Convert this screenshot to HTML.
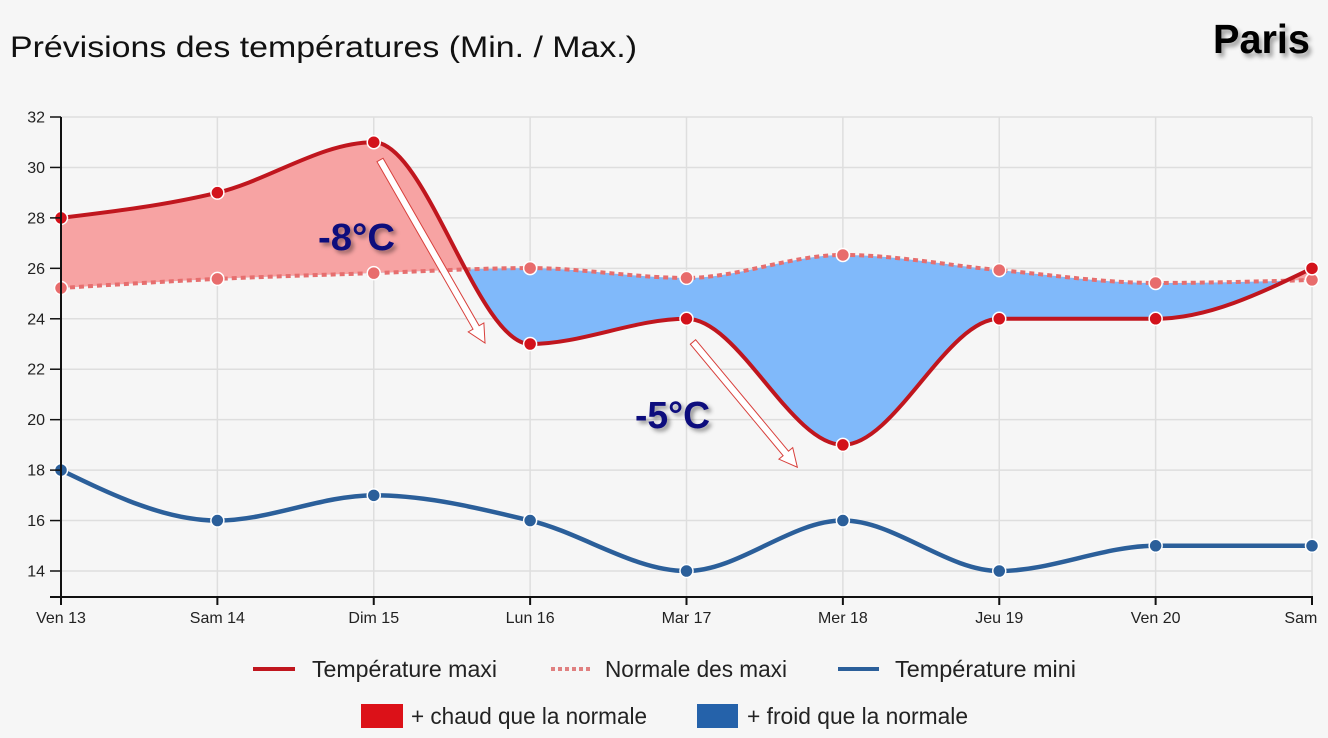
<!DOCTYPE html>
<html>
<head>
<meta charset="utf-8">
<style>
html,body{margin:0;padding:0;background:#f6f6f6;}
body{width:1328px;height:738px;overflow:hidden;}
svg{display:block;}
text{font-family:"Liberation Sans",Arial,sans-serif;}
</style>
</head>
<body>
<svg id="s" width="1328" height="738" viewBox="0 0 1328 738" xmlns="http://www.w3.org/2000/svg">
<defs>
  <filter id="sh" x="-20%" y="-20%" width="150%" height="160%">
    <feDropShadow dx="3" dy="4" stdDeviation="2" flood-color="#000" flood-opacity="0.35"/>
  </filter>
  <filter id="sh2" x="-20%" y="-20%" width="150%" height="160%">
    <feDropShadow dx="3" dy="3" stdDeviation="2" flood-color="#000" flood-opacity="0.4"/>
  </filter>
  <clipPath id="clipAbove"><path id="cpA" d=""/></clipPath>
  <clipPath id="clipBelow"><path id="cpB" d=""/></clipPath>
  <clipPath id="plotClip"><rect x="0" y="0" width="1318" height="738"/></clipPath>
</defs>
<rect width="1328" height="738" fill="#f6f6f6"/>

<text x="10" y="57" font-size="30" fill="#111" textLength="627" lengthAdjust="spacingAndGlyphs">Prévisions des températures (Min. / Max.)</text>
<text x="1213" y="53" font-size="41" font-weight="bold" fill="#000" textLength="97" lengthAdjust="spacingAndGlyphs" filter="url(#sh)">Paris</text>

<g id="grid" stroke="#dedede" stroke-width="1.5"></g>
<path id="fillRed" fill="rgb(247,163,163)" clip-path="url(#clipAbove)"/>
<path id="fillBlue" fill="rgb(128,185,250)" clip-path="url(#clipBelow)"/>
<path id="lineNorm" fill="none" stroke="rgb(230,110,110)" stroke-width="4" stroke-dasharray="5 4"/>
<path id="lineMax" fill="none" stroke="#c0161e" stroke-width="4"/>
<path id="lineMin" fill="none" stroke="#2b5f9a" stroke-width="4.5"/>
<g id="dots"></g>

<!-- arrows -->
<g transform="translate(380,160) rotate(60.15)">
  <polygon points="0,-3.5 193,-3.5 193,-9 211,0 193,9 193,3.5 0,3.5" fill="#fff" stroke="#d8403c" stroke-width="1"/>
</g>
<g transform="translate(693,342) rotate(50.2)">
  <polygon points="0,-3.5 145,-3.5 145,-9 163,0 145,9 145,3.5 0,3.5" fill="#fff" stroke="#d8403c" stroke-width="1"/>
</g>

<text x="318" y="250" font-size="38" font-weight="bold" fill="#0a0a7d" textLength="77" lengthAdjust="spacingAndGlyphs" filter="url(#sh2)">-8°C</text>
<text x="635" y="428" font-size="38" font-weight="bold" fill="#0a0a7d" textLength="75" lengthAdjust="spacingAndGlyphs" filter="url(#sh2)">-5°C</text>

<g id="axes"></g>

<!-- legend -->
<line x1="253" y1="669" x2="295" y2="669" stroke="#c0161e" stroke-width="4"/>
<text x="312" y="677" font-size="23" fill="#222" textLength="185" lengthAdjust="spacingAndGlyphs">Température maxi</text>
<line x1="551" y1="669" x2="590" y2="669" stroke="#e08080" stroke-width="4" stroke-dasharray="4 3"/>
<text x="605" y="677" font-size="23" fill="#222" textLength="182" lengthAdjust="spacingAndGlyphs">Normale des maxi</text>
<line x1="838" y1="669" x2="879" y2="669" stroke="#2b5f9a" stroke-width="4"/>
<text x="895" y="677" font-size="23" fill="#222" textLength="181" lengthAdjust="spacingAndGlyphs">Température mini</text>

<rect x="361" y="704" width="42" height="24" fill="#dc1118"/>
<text x="411" y="724" font-size="23" fill="#222" textLength="236" lengthAdjust="spacingAndGlyphs">+ chaud que la normale</text>
<rect x="697" y="704" width="41" height="24" fill="#2562aa"/>
<text x="747" y="724" font-size="23" fill="#222" textLength="221" lengthAdjust="spacingAndGlyphs">+ froid que la normale</text>
</svg>

<script>
(function(){
  var NS="http://www.w3.org/2000/svg";
  var X0=61, X1=1312, Y32=117, PER=(571-117)/18;
  var xs=[];for(var i=0;i<9;i++)xs.push(X0+i*(X1-X0)/8);
  function Y(v){return Y32+(32-v)*PER;}
  var maxT=[28,29,31,23,24,19,24,24,26];
  var norm=[25.22,25.58,25.81,26.01,25.62,26.53,25.93,25.42,25.54];
  var minT=[18,16,17,16,14,16,14,15,15];
  var days=["Ven 13","Sam 14","Dim 15","Lun 16","Mar 17","Mer 18","Jeu 19","Ven 20","Sam 21"];
  function tang(x,y){
    var n=x.length,t=new Array(n);
    for(var i=1;i<n-1;i++){
      var h0=x[i]-x[i-1],h1=x[i+1]-x[i],s0=(y[i]-y[i-1])/h0,s1=(y[i+1]-y[i])/h1,p=(s0*h1+s1*h0)/(h0+h1);
      var sg=function(v){return v<0?-1:1;};
      t[i]=(sg(s0)+sg(s1))*Math.min(Math.abs(s0),Math.abs(s1),0.5*Math.abs(p))||0;
    }
    t[0]=(3*(y[1]-y[0])/(x[1]-x[0])-t[1])/2;
    t[n-1]=(3*(y[n-1]-y[n-2])/(x[n-1]-x[n-2])-t[n-2])/2;
    return t;
  }
  function fwd(x,y,move){
    var t=tang(x,y),d=(move?"M":"L")+x[0]+","+y[0];
    for(var i=0;i<x.length-1;i++){
      var dx=(x[i+1]-x[i])/3;
      d+="C"+(x[i]+dx)+","+(y[i]+dx*t[i])+","+(x[i+1]-dx)+","+(y[i+1]-dx*t[i+1])+","+x[i+1]+","+y[i+1];
    }
    return d;
  }
  function rev(x,y){
    var t=tang(x,y),n=x.length,d="L"+x[n-1]+","+y[n-1];
    for(var i=n-1;i>0;i--){
      var dx=(x[i]-x[i-1])/3;
      d+="C"+(x[i]-dx)+","+(y[i]-dx*t[i])+","+(x[i-1]+dx)+","+(y[i-1]+dx*t[i-1])+","+x[i-1]+","+y[i-1];
    }
    return d;
  }
  var yMax=maxT.map(Y),yNorm=norm.map(Y),yMin=minT.map(Y);
  var area=fwd(xs,yMax,true)+rev(xs,yNorm)+"Z";
  document.getElementById("fillRed").setAttribute("d",area);
  document.getElementById("fillBlue").setAttribute("d",area);
  document.getElementById("cpA").setAttribute("d",fwd(xs,yNorm,true)+"L1330,0L0,0Z");
  document.getElementById("cpB").setAttribute("d",fwd(xs,yNorm,true)+"L1330,738L0,738Z");
  document.getElementById("lineMax").setAttribute("d",fwd(xs,yMax,true));
  document.getElementById("lineNorm").setAttribute("d",fwd(xs,yNorm,true));
  document.getElementById("lineMin").setAttribute("d",fwd(xs,yMin,true));

  function el(tag,attrs,parent,txt){
    var e=document.createElementNS(NS,tag);
    for(var k in attrs)e.setAttribute(k,attrs[k]);
    if(txt!==undefined)e.textContent=txt;
    parent.appendChild(e);return e;
  }
  var g=document.getElementById("grid");
  for(var v=14;v<=32;v+=2){el("line",{x1:X0,y1:Y(v),x2:X1,y2:Y(v)},g);}
  for(var i=0;i<9;i++){el("line",{x1:xs[i],y1:Y32,x2:xs[i],y2:597},g);}

  var dg=document.getElementById("dots");
  for(var i=0;i<9;i++){
    el("circle",{cx:xs[i],cy:yNorm[i],r:6.5,fill:"#e86c6c",stroke:"#fff","stroke-width":1.5},dg);
  }
  for(var i=0;i<9;i++){
    el("circle",{cx:xs[i],cy:yMax[i],r:6.5,fill:"#d3121b",stroke:"#fff","stroke-width":1.5},dg);
    el("circle",{cx:xs[i],cy:yMin[i],r:6.5,fill:"#2b5f9a",stroke:"#fff","stroke-width":1.5},dg);
  }

  var ax=document.getElementById("axes");
  el("line",{x1:X0,y1:Y32,x2:X0,y2:598,stroke:"#111","stroke-width":2},ax);
  el("line",{x1:50,y1:597,x2:X1+1,y2:597,stroke:"#111","stroke-width":2},ax);
  for(var v=14;v<=32;v+=2){
    el("line",{x1:50,y1:Y(v),x2:X0,y2:Y(v),stroke:"#111","stroke-width":1.5},ax);
    el("text",{x:45,y:Y(v)+5.5,"font-size":16,"text-anchor":"end",fill:"#222"},ax,String(v));
  }
  var lg=el("g",{"clip-path":"url(#plotClip)"},ax);
  for(var i=0;i<9;i++){
    el("line",{x1:xs[i],y1:597,x2:xs[i],y2:605,stroke:"#111","stroke-width":2},ax);
    el("text",{x:xs[i],y:623,"font-size":16,"text-anchor":"middle",fill:"#222"},lg,days[i]);
  }
})();
</script>
</body>
</html>
